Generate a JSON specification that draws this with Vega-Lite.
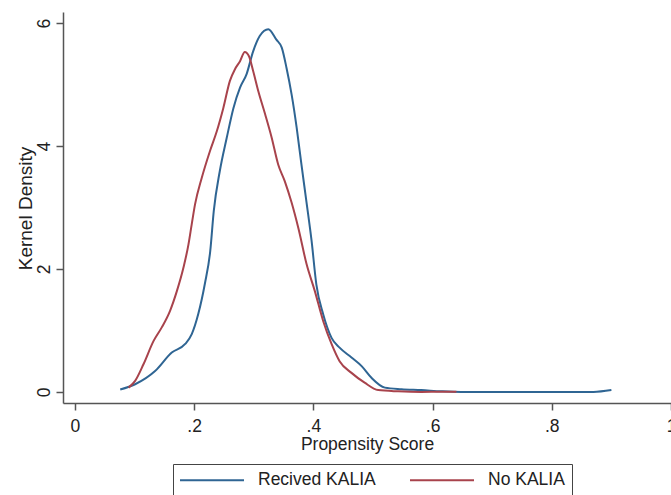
{
  "$schema": "https://vega.github.io/schema/vega-lite/v6.json",
  "autosize": {"type": "none"},
  "padding": {"left": 63, "top": 12, "right": 0, "bottom": 92},
  "width": 608,
  "height": 391,
  "background": "white",
  "config": {
    "font": "Liberation Sans",
    "view": {"stroke": null}
  },
  "data": {
    "values": [
      {"s": "Recived KALIA", "x": 0.076, "d": 0.04},
      {"s": "Recived KALIA", "x": 0.101, "d": 0.125},
      {"s": "Recived KALIA", "x": 0.1345, "d": 0.34},
      {"s": "Recived KALIA", "x": 0.1625, "d": 0.64},
      {"s": "Recived KALIA", "x": 0.185, "d": 0.78},
      {"s": "Recived KALIA", "x": 0.196, "d": 0.94},
      {"s": "Recived KALIA", "x": 0.207, "d": 1.27},
      {"s": "Recived KALIA", "x": 0.218, "d": 1.76},
      {"s": "Recived KALIA", "x": 0.227, "d": 2.29},
      {"s": "Recived KALIA", "x": 0.233, "d": 2.95},
      {"s": "Recived KALIA", "x": 0.243, "d": 3.59},
      {"s": "Recived KALIA", "x": 0.2546, "d": 4.13},
      {"s": "Recived KALIA", "x": 0.266, "d": 4.62},
      {"s": "Recived KALIA", "x": 0.277, "d": 4.95},
      {"s": "Recived KALIA", "x": 0.288, "d": 5.17},
      {"s": "Recived KALIA", "x": 0.299, "d": 5.54},
      {"s": "Recived KALIA", "x": 0.31, "d": 5.79},
      {"s": "Recived KALIA", "x": 0.3245, "d": 5.9},
      {"s": "Recived KALIA", "x": 0.338, "d": 5.73},
      {"s": "Recived KALIA", "x": 0.347, "d": 5.6},
      {"s": "Recived KALIA", "x": 0.355, "d": 5.27},
      {"s": "Recived KALIA", "x": 0.3635, "d": 4.84},
      {"s": "Recived KALIA", "x": 0.372, "d": 4.3},
      {"s": "Recived KALIA", "x": 0.38, "d": 3.7},
      {"s": "Recived KALIA", "x": 0.3886, "d": 3.08},
      {"s": "Recived KALIA", "x": 0.397, "d": 2.46},
      {"s": "Recived KALIA", "x": 0.405, "d": 1.75},
      {"s": "Recived KALIA", "x": 0.4166, "d": 1.26},
      {"s": "Recived KALIA", "x": 0.4305, "d": 0.88},
      {"s": "Recived KALIA", "x": 0.444, "d": 0.72},
      {"s": "Recived KALIA", "x": 0.464, "d": 0.56},
      {"s": "Recived KALIA", "x": 0.481, "d": 0.42},
      {"s": "Recived KALIA", "x": 0.4975, "d": 0.23},
      {"s": "Recived KALIA", "x": 0.52, "d": 0.07},
      {"s": "Recived KALIA", "x": 0.548, "d": 0.045},
      {"s": "Recived KALIA", "x": 0.581, "d": 0.03},
      {"s": "Recived KALIA", "x": 0.615, "d": 0.01},
      {"s": "Recived KALIA", "x": 0.648, "d": 0.0},
      {"s": "Recived KALIA", "x": 0.75, "d": 0.0},
      {"s": "Recived KALIA", "x": 0.87, "d": 0.0},
      {"s": "Recived KALIA", "x": 0.9, "d": 0.03},
      {"s": "No KALIA", "x": 0.09, "d": 0.07},
      {"s": "No KALIA", "x": 0.101, "d": 0.18},
      {"s": "No KALIA", "x": 0.115, "d": 0.45},
      {"s": "No KALIA", "x": 0.132, "d": 0.83},
      {"s": "No KALIA", "x": 0.1457, "d": 1.05},
      {"s": "No KALIA", "x": 0.1596, "d": 1.32},
      {"s": "No KALIA", "x": 0.171, "d": 1.64},
      {"s": "No KALIA", "x": 0.182, "d": 2.02},
      {"s": "No KALIA", "x": 0.1905, "d": 2.4},
      {"s": "No KALIA", "x": 0.196, "d": 2.73},
      {"s": "No KALIA", "x": 0.2015, "d": 3.05},
      {"s": "No KALIA", "x": 0.2127, "d": 3.48},
      {"s": "No KALIA", "x": 0.2266, "d": 3.92},
      {"s": "No KALIA", "x": 0.238, "d": 4.24},
      {"s": "No KALIA", "x": 0.249, "d": 4.62},
      {"s": "No KALIA", "x": 0.26, "d": 5.06},
      {"s": "No KALIA", "x": 0.2685, "d": 5.25},
      {"s": "No KALIA", "x": 0.277, "d": 5.38},
      {"s": "No KALIA", "x": 0.285, "d": 5.53},
      {"s": "No KALIA", "x": 0.292, "d": 5.46},
      {"s": "No KALIA", "x": 0.299, "d": 5.22},
      {"s": "No KALIA", "x": 0.3077, "d": 4.89},
      {"s": "No KALIA", "x": 0.319, "d": 4.52},
      {"s": "No KALIA", "x": 0.33, "d": 4.14},
      {"s": "No KALIA", "x": 0.341, "d": 3.7},
      {"s": "No KALIA", "x": 0.352, "d": 3.43},
      {"s": "No KALIA", "x": 0.3635, "d": 3.08},
      {"s": "No KALIA", "x": 0.3747, "d": 2.67},
      {"s": "No KALIA", "x": 0.3886, "d": 2.08},
      {"s": "No KALIA", "x": 0.4025, "d": 1.64},
      {"s": "No KALIA", "x": 0.4166, "d": 1.15},
      {"s": "No KALIA", "x": 0.4305, "d": 0.78},
      {"s": "No KALIA", "x": 0.444, "d": 0.5},
      {"s": "No KALIA", "x": 0.464, "d": 0.31},
      {"s": "No KALIA", "x": 0.486, "d": 0.15},
      {"s": "No KALIA", "x": 0.5087, "d": 0.03},
      {"s": "No KALIA", "x": 0.542, "d": 0.01},
      {"s": "No KALIA", "x": 0.581, "d": 0.0},
      {"s": "No KALIA", "x": 0.615, "d": 0.005},
      {"s": "No KALIA", "x": 0.64, "d": 0.005}
    ]
  },
  "mark": {"type": "line", "interpolate": "monotone", "strokeWidth": 2, "clip": false},
  "encoding": {
    "x": {
      "field": "x", "type": "quantitative",
      "scale": {"domain": [-0.02, 1.0], "nice": false, "zero": false},
      "axis": {
        "values": [0, 0.2, 0.4, 0.6, 0.8, 1],
        "labelExpr": "datum.value == 0 ? '0' : datum.value == 1 ? '1' : '.' + format(datum.value * 10, 'd')",
        "title": "Propensity Score",
        "grid": false,
        "domainColor": "#555555", "domainWidth": 1.5,
        "tickColor": "#555555", "tickWidth": 1.5, "tickSize": 7,
        "labelFontSize": 17.5, "labelColor": "#222222", "labelPadding": 7,
        "labelFlush": false, "labelOverlap": false,
        "titleFontSize": 17.5, "titleFontWeight": "normal", "titleColor": "#222222",
        "titleBaseline": "alphabetic", "titleY": 46.6
      }
    },
    "y": {
      "field": "d", "type": "quantitative",
      "scale": {"domain": [-0.18, 6.18], "nice": false, "zero": false},
      "axis": {
        "values": [0, 2, 4, 6],
        "title": "Kernel Density",
        "grid": false,
        "domainColor": "#555555", "domainWidth": 1.5,
        "tickColor": "#555555", "tickWidth": 1.5, "tickSize": 7,
        "labelFontSize": 17.5, "labelColor": "#222222", "labelPadding": 7,
        "labelAngle": -90, "labelAlign": "center", "labelBaseline": "alphabetic",
        "labelFlush": false, "labelOverlap": false,
        "titleFontSize": 19, "titleFontWeight": "normal", "titleColor": "#222222",
        "titleAngle": -90, "titleBaseline": "alphabetic", "titleX": -32, "titleY": 196
      }
    },
    "color": {
      "field": "s", "type": "nominal",
      "scale": {"domain": ["Recived KALIA", "No KALIA"], "range": ["#2f6593", "#a8434c"]},
      "legend": {
        "title": null,
        "orient": "none",
        "legendX": 110,
        "legendY": 452,
        "direction": "horizontal",
        "symbolType": "M-4,0L4,0",
        "symbolSize": 256,
        "symbolStrokeWidth": 2,
        "symbolOffset": 23,
        "labelFontSize": 17.5,
        "labelColor": "#222222",
        "labelOffset": 37,
        "columnPadding": 30,
        "padding": 7,
        "strokeColor": "#444444",
        "fillColor": "white"
      }
    },
    "order": {"field": "x", "type": "quantitative"}
  }
}
